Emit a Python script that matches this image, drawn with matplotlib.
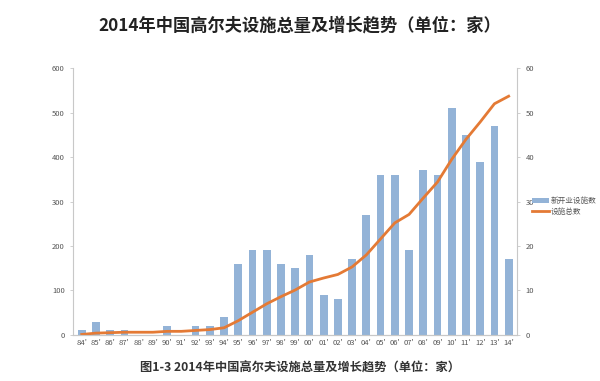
import matplotlib
matplotlib.use("Agg")
import matplotlib.pyplot as plt

plt.rcParams['font.family'] = ['Noto Sans CJK SC', 'DejaVu Sans']

years = ["84'", "85'", "86'", "87'", "88'", "89'", "90'", "91'", "92'", "93'",
         "94'", "95'", "96'", "97'", "98'", "99'", "00'", "01'", "02'", "03'",
         "04'", "05'", "06'", "07'", "08'", "09'", "10'", "11'", "12'", "13'", "14'"]
new_open = [10, 30, 10, 10, 0, 0, 20, 0, 20, 20,
            40, 160, 190, 190, 160, 150, 180, 90, 80, 170,
            270, 360, 360, 190, 370, 360, 510, 450, 390, 470, 170]
total = [0.1, 0.4, 0.5, 0.6, 0.6, 0.6, 0.8, 0.8, 1.0, 1.2,
         1.6, 3.2, 5.1, 7.0, 8.6, 10.1, 11.9, 12.8, 13.6, 15.3,
         18.0, 21.6, 25.2, 27.1, 30.8, 34.4, 39.5, 44.0, 47.9, 52.0, 53.7]

BAR = "#93b3d7"
LINE = "#e47a35"
AXC = "#c8c8c8"
TXT = "#555555"

fig = plt.figure(figsize=(6, 3.81), dpi=100)
ax = fig.add_axes([0.122, 0.121, 0.740, 0.700])
x = range(len(years))
b = ax.bar(x, new_open, width=0.55, color=BAR, label="新开业设施数")
ax.set_ylim(0, 600)
ax.set_xlim(-0.6, len(years) - 0.4)
ax.set_yticks(range(0, 601, 100))
ax.set_xticks(list(x))
ax.set_xticklabels(years)

ax2 = ax.twinx()
l, = ax2.plot(x, total, color=LINE, linewidth=2, label="设施总数")
ax2.set_ylim(0, 60)
ax2.set_yticks(range(0, 61, 10))

for a in (ax, ax2):
    for s in a.spines.values():
        s.set_color(AXC)
        s.set_linewidth(0.8)
    a.spines['top'].set_visible(False)
    a.tick_params(colors=AXC, labelcolor=TXT, labelsize=5.5, length=2.5, width=0.6)
ax.spines['right'].set_visible(False)
ax2.spines['left'].set_visible(False)
ax.tick_params(axis='x', length=0, pad=3)

fig.legend([b, l], ["新开业设施数", "设施总数"], loc="upper left",
           bbox_to_anchor=(0.875, 0.5), frameon=False, fontsize=5.5,
           handlelength=2.2, handletextpad=0.3, labelspacing=0.3,
           labelcolor=TXT)

fig.text(0.5, 0.932, "2014年中国高尔夫设施总量及增长趋势（单位：家）",
         ha="center", va="center", fontsize=12.4, fontweight="bold", color="#222222")
fig.text(0.5, 0.035, "图1-3 2014年中国高尔夫设施总量及增长趋势（单位：家）",
         ha="center", va="center", fontsize=8.8, fontweight="bold",
         fontstyle="italic", color="#333333")

fig.savefig("out.png", dpi=100, facecolor="white")
